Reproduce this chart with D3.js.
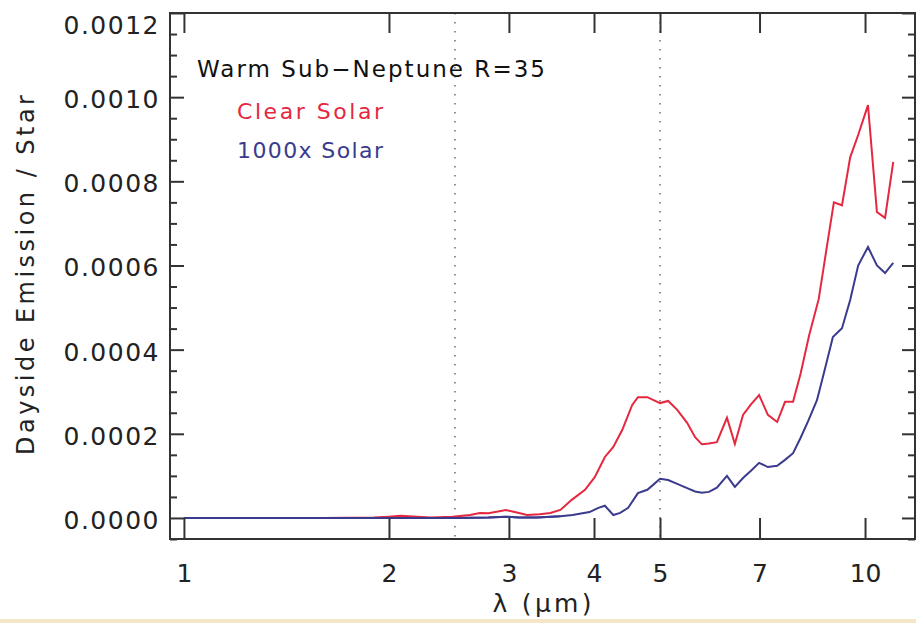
<!DOCTYPE html>
<html>
<head>
<meta charset="utf-8">
<script src="https://cdn.jsdelivr.net/npm/d3@7"></script>
<style>
  html, body { margin: 0; padding: 0; background: #fff; }
  svg { display: block; }
  text { font-family: "DejaVu Sans", sans-serif; }
</style>
</head>
<body>
<svg id="chart" width="916" height="623"></svg>
<script>
// ---- data (flux in units of 1e-4) ----
const fluxUnit = 1e-4;
const redWave = [1.0, 1.3, 1.6, 1.9, 2.0, 2.08, 2.2, 2.3, 2.48, 2.63, 2.72, 2.80, 2.97, 3.06, 3.19, 3.33, 3.45, 3.57,
  3.71, 3.88, 4.01, 4.15, 4.27, 4.40, 4.55, 4.64, 4.79, 5.0, 5.14, 5.30, 5.48, 5.63, 5.76, 5.9, 6.06, 6.27, 6.44,
  6.62, 6.8, 6.99, 7.20, 7.43, 7.63, 7.84, 8.04, 8.28, 8.55, 8.8, 9.0, 9.25, 9.51, 9.77, 10.1, 10.41, 10.7, 11.0];
const redFlux = [0, 0, 0, 0.01, 0.03, 0.05, 0.03, 0.01, 0.03, 0.07, 0.12, 0.11, 0.19, 0.14, 0.07, 0.09, 0.12, 0.19,
  0.43, 0.67, 0.97, 1.45, 1.69, 2.09, 2.68, 2.87, 2.87, 2.73, 2.78, 2.57, 2.26, 1.92, 1.75, 1.77, 1.80, 2.38, 1.76,
  2.45, 2.70, 2.92, 2.45, 2.28, 2.76, 2.76, 3.42, 4.35, 5.2, 6.5, 7.5, 7.43, 8.57, 9.1, 9.81, 7.27, 7.13, 8.46];
const blueWave = [1.0, 1.5, 2.0, 2.5, 2.8, 2.97, 3.1, 3.3, 3.57, 3.72, 3.94, 4.06, 4.15, 4.27, 4.37, 4.49, 4.64, 4.79,
  4.88, 5.0, 5.14, 5.30, 5.48, 5.63, 5.76, 5.9, 6.06, 6.27, 6.44, 6.62, 6.8, 6.99, 7.20, 7.43, 7.63, 7.84, 8.04, 8.25,
  8.5, 8.7, 8.97, 9.25, 9.51, 9.77, 10.1, 10.41, 10.7, 11.0];
const blueFlux = [0, 0, 0, 0, 0.01, 0.03, 0.01, 0.01, 0.04, 0.07, 0.14, 0.24, 0.29, 0.07, 0.12, 0.24, 0.59, 0.67,
  0.78, 0.93, 0.90, 0.81, 0.71, 0.63, 0.60, 0.62, 0.72, 1.00, 0.74, 0.95, 1.12, 1.31, 1.21, 1.24, 1.38, 1.54, 1.90, 2.30,
  2.80, 3.44, 4.30, 4.51, 5.18, 6.00, 6.44, 6.00, 5.82, 6.06];
const xTickValues = [1, 2, 3, 4, 5, 7, 10];
const yTickValues = [0, 0.0002, 0.0004, 0.0006, 0.0008, 0.0010, 0.0012];
const markerWaves = [2.5, 5];
const titleText = "Warm Sub\u2212Neptune R=35";
const seriesNames = ["Clear Solar", "1000x Solar"];

// ---- layout ----
const svg = d3.select("#chart");
const L = 170, R = 915, T = 13, B = 539;
const frameColor = "#333";
const redColor = "#e5283f";
const blueColor = "#3b3b8e";

const x = d3.scaleLog().domain([0.954, 11.84]).range([L, R]);
const y = d3.scaleLinear().domain([-0.00005, 0.0012]).range([B, T]);

// bottom beige band (screenshot edge)
svg.append("rect").attr("x", 0).attr("y", 619).attr("width", 916).attr("height", 4).attr("fill", "#f4e6c6");

// dotted markers
svg.selectAll("line.marker").data(markerWaves).enter().append("line")
  .attr("class", "marker")
  .attr("x1", d => x(d)).attr("x2", d => x(d))
  .attr("y1", T).attr("y2", B)
  .attr("stroke", "#777").attr("stroke-width", 1.6)
  .attr("stroke-dasharray", "1.6,7.4");

// curves
const line = d3.line().x(d => x(d[0])).y(d => y(d[1] * fluxUnit));
const redData = redWave.map((w, i) => [w, redFlux[i]]);
const blueData = blueWave.map((w, i) => [w, blueFlux[i]]);
svg.append("path").datum(blueData).attr("d", line)
  .attr("fill", "none").attr("stroke", blueColor).attr("stroke-width", 2);
svg.append("path").datum(redData).attr("d", line)
  .attr("fill", "none").attr("stroke", redColor).attr("stroke-width", 2);
// blue drawn over red at the flat zero part
svg.append("path").datum(blueData.filter(d => d[0] <= 3.6)).attr("d", line)
  .attr("fill", "none").attr("stroke", blueColor).attr("stroke-width", 2);

// axes
function styleAxis(g) {
  g.select(".domain").remove();
  g.selectAll(".tick line").attr("stroke", frameColor).attr("stroke-width", 2);
}
const minorY = d3.range(-0.00005, 0.0012001, 0.00005).filter(v => Math.abs(Math.round(v / 0.0002) * 0.0002 - v) > 1e-9);

// bottom
const gB = svg.append("g").attr("transform", `translate(0,${B})`)
  .call(d3.axisBottom(x).tickValues(xTickValues).tickFormat(d3.format("d")).tickSizeInner(-21).tickSizeOuter(0).tickPadding(0));
styleAxis(gB);
gB.selectAll(".tick text").attr("y", 43).attr("dy", 0).attr("font-size", 25).attr("fill", "#222");
// top
const gT = svg.append("g").attr("transform", `translate(0,${T})`)
  .call(d3.axisTop(x).tickValues(xTickValues).tickFormat("").tickSizeInner(-20).tickSizeOuter(0));
styleAxis(gT);
// left major
const gL = svg.append("g").attr("transform", `translate(${L},0)`)
  .call(d3.axisLeft(y).tickValues(yTickValues).tickFormat(d3.format(".4f")).tickSizeInner(-14).tickSizeOuter(0).tickPadding(0));
styleAxis(gL);
gL.selectAll(".tick text").attr("x", -10).attr("dy", "0.42em").attr("font-size", 25)
  .attr("letter-spacing", 1.5).attr("fill", "#222");
gL.selectAll(".tick text").filter(d => d === 0.0012).attr("dy", "0.82em");
// left minor
const gLm = svg.append("g").attr("transform", `translate(${L},0)`)
  .call(d3.axisLeft(y).tickValues(minorY).tickFormat("").tickSizeInner(-7).tickSizeOuter(0));
styleAxis(gLm);
// right major & minor
const gR = svg.append("g").attr("transform", `translate(${R},0)`)
  .call(d3.axisRight(y).tickValues(yTickValues).tickFormat("").tickSizeInner(-13).tickSizeOuter(0));
styleAxis(gR);
const gRm = svg.append("g").attr("transform", `translate(${R},0)`)
  .call(d3.axisRight(y).tickValues(minorY).tickFormat("").tickSizeInner(-7).tickSizeOuter(0));
styleAxis(gRm);

// frame
svg.append("rect").attr("x", L).attr("y", T).attr("width", R - L).attr("height", B - T)
  .attr("fill", "none").attr("stroke", frameColor).attr("stroke-width", 2);

// axis titles
svg.append("text").attr("x", 542).attr("y", 612).attr("text-anchor", "middle")
  .attr("font-size", 25).attr("fill", "#222").attr("textLength", 99).attr("lengthAdjust", "spacing")
  .text("\u03bb (\u03bcm)");
svg.append("text").attr("transform", "translate(34,275) rotate(-90)").attr("text-anchor", "middle")
  .attr("font-size", 24).attr("fill", "#222").attr("textLength", 360).attr("lengthAdjust", "spacing")
  .text("Dayside Emission / Star");

// legend
svg.append("text").attr("x", 197).attr("y", 77).attr("font-size", 23).attr("fill", "#111")
  .attr("textLength", 348).attr("lengthAdjust", "spacing").text(titleText);
svg.append("text").attr("x", 237).attr("y", 119).attr("font-size", 22).attr("fill", redColor)
  .attr("textLength", 146).attr("lengthAdjust", "spacing").text(seriesNames[0]);
svg.append("text").attr("x", 237).attr("y", 158).attr("font-size", 22).attr("fill", blueColor)
  .attr("textLength", 146).attr("lengthAdjust", "spacing").text(seriesNames[1]);
</script>
</body>
</html>
